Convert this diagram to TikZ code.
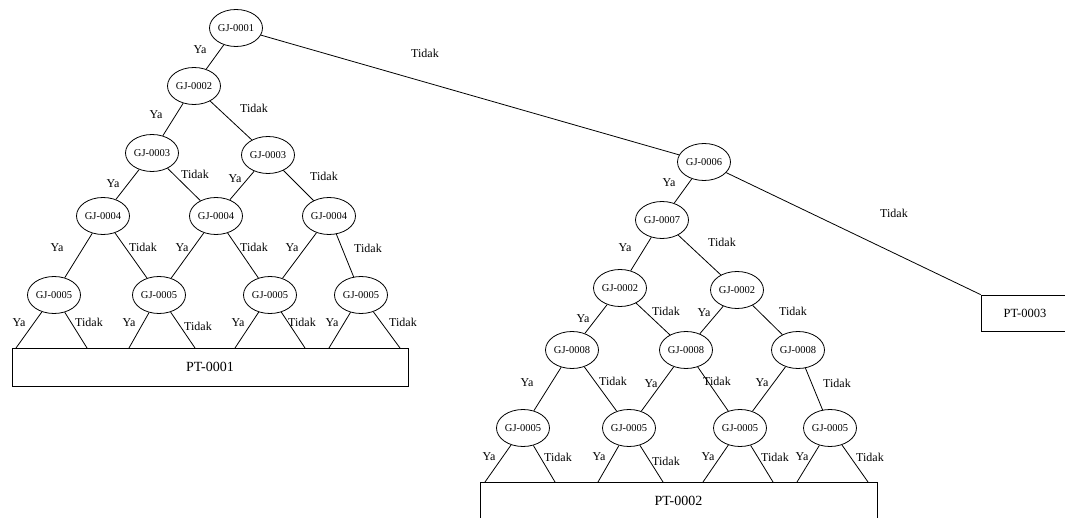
\documentclass[tikz,border=0pt]{standalone}
\usepackage{fontspec}
\setmainfont{Liberation Serif}
\usetikzlibrary{shapes}

\begin{document}
\begin{tikzpicture}[x=1pt,y=-1pt,line width=0.8pt]
	\useasboundingbox (0,0) rectangle (1065,518);
	\clip (0,0) rectangle (1065,518);

	% questions
	\begin{scope}[every node/.style={ellipse,draw,inner sep=0pt,minimum width=53pt,minimum height=37pt,font=\fontsize{10.5}{12}\selectfont}]
	    \node (q1) at (236,28) {GJ-0001};
	    \node (q2) at (194,86) {GJ-0002};
	    \node (q3a) at (152,153) {GJ-0003};
	    \node (q3b) at (268,155) {GJ-0003};
	    \node (q4a) at (103,216) {GJ-0004};
	    \node (q4b) at (216,216) {GJ-0004};
	    \node (q4c) at (329,216) {GJ-0004};
	    \node (q5a) at (54,295) {GJ-0005};
	    \node (q5b) at (159,295) {GJ-0005};
	    \node (q5c) at (270,295) {GJ-0005};
	    \node (q5d) at (361,295) {GJ-0005};
	    \node (q6) at (704,162) {GJ-0006};
	    \node (q7) at (662,220) {GJ-0007};
	    \node (q2a) at (620,288) {GJ-0002};
	    \node (q2b) at (737,290) {GJ-0002};
	    \node (q8a) at (572,350) {GJ-0008};
	    \node (q8b) at (686,350) {GJ-0008};
	    \node (q8c) at (798,350) {GJ-0008};
	    \node (q5e) at (523,428) {GJ-0005};
	    \node (q5f) at (629,428) {GJ-0005};
	    \node (q5g) at (740,428) {GJ-0005};
	    \node (q5h) at (830,428) {GJ-0005};
	\end{scope}

	% results
	\begin{scope}[every node/.style={rectangle,draw,minimum height=38pt,font=\fontsize{14}{16}\selectfont}]
	    \node[minimum width=396pt] (r1) at (210,367) {PT-0001};
	    \node[minimum width=397pt] (r2) at (678.5,501) {PT-0002};
	    \node[minimum width=88pt,minimum height=36pt,font=\fontsize{12.5}{14}\selectfont] (r3) at (1025,313) {PT-0003};
	\end{scope}

	\coordinate (r1a) at (16,348);  \coordinate (r1b) at (87,348);
	\coordinate (r1c) at (129,348); \coordinate (r1d) at (195,348);
	\coordinate (r1e) at (235,348); \coordinate (r1f) at (305,348);
	\coordinate (r1g) at (329,348); \coordinate (r1h) at (400,348);
	\coordinate (r2a) at (485,482); \coordinate (r2b) at (555,482);
	\coordinate (r2c) at (598,482); \coordinate (r2d) at (663,482);
	\coordinate (r2e) at (703,482); \coordinate (r2f) at (773,482);
	\coordinate (r2g) at (797,482); \coordinate (r2h) at (868,482);

	% answers
	\begin{scope}[every node/.style={font=\fontsize{12}{14}\selectfont,inner sep=0pt}]
	    \draw (q1) -- (q2) node at (200,50) {Ya};
	    \draw (q1) -- (q6) node at (425,53) {Tidak};
	    \draw (q2) -- (q3a) node at (156,115) {Ya};
	    \draw (q2) -- (q3b) node at (254,108) {Tidak};
	    \draw (q3a) -- (q4a) node at (113,184) {Ya};
	    \draw (q3a) -- (q4b) node at (195,174) {Tidak};
	    \draw (q3b) -- (q4b) node at (235,179) {Ya};
	    \draw (q3b) -- (q4c) node at (324,176) {Tidak};
	    \draw (q4a) -- (q5a) node at (57,248) {Ya};
	    \draw (q4a) -- (q5b) node at (143,247) {Tidak};
	    \draw (q4b) -- (q5b) node at (182,248) {Ya};
	    \draw (q4b) -- (q5c) node at (254,247) {Tidak};
	    \draw (q4c) -- (q5c) node at (292,248) {Ya};
	    \draw (q4c) -- (q5d) node at (368,248) {Tidak};
	    \draw (q5a) -- (r1a) node at (19,323) {Ya};
	    \draw (q5a) -- (r1b) node at (89,322) {Tidak};
	    \draw (q5b) -- (r1c) node at (129,323) {Ya};
	    \draw (q5b) -- (r1d) node at (198,326) {Tidak};
	    \draw (q5c) -- (r1e) node at (238,323) {Ya};
	    \draw (q5c) -- (r1f) node at (302,322) {Tidak};
	    \draw (q5d) -- (r1g) node at (332,323) {Ya};
	    \draw (q5d) -- (r1h) node at (403,322) {Tidak};

	    \draw (q6) -- (q7) node at (669,183) {Ya};
	    \draw (q6) -- (r3.north west) node at (894,213) {Tidak};
	    \draw (q7) -- (q2a) node at (625,248) {Ya};
	    \draw (q7) -- (q2b) node at (722,242) {Tidak};
	    \draw (q2a) -- (q8a) node at (583,319) {Ya};
	    \draw (q2a) -- (q8b) node at (666,311) {Tidak};
	    \draw (q2b) -- (q8b) node at (704,313) {Ya};
	    \draw (q2b) -- (q8c) node at (793,311) {Tidak};
	    \draw (q8a) -- (q5e) node at (527,383) {Ya};
	    \draw (q8a) -- (q5f) node at (613,381) {Tidak};
	    \draw (q8b) -- (q5f) node at (651,384) {Ya};
	    \draw (q8b) -- (q5g) node at (717,381) {Tidak};
	    \draw (q8c) -- (q5g) node at (762,383) {Ya};
	    \draw (q8c) -- (q5h) node at (837,383) {Tidak};
	    \draw (q5e) -- (r2a) node at (489,457) {Ya};
	    \draw (q5e) -- (r2b) node at (558,457) {Tidak};
	    \draw (q5f) -- (r2c) node at (599,457) {Ya};
	    \draw (q5f) -- (r2d) node at (666,461) {Tidak};
	    \draw (q5g) -- (r2e) node at (708,457) {Ya};
	    \draw (q5g) -- (r2f) node at (775,457) {Tidak};
	    \draw (q5h) -- (r2g) node at (802,457) {Ya};
	    \draw (q5h) -- (r2h) node at (870,457) {Tidak};
	\end{scope}
\end{tikzpicture}
\end{document}
